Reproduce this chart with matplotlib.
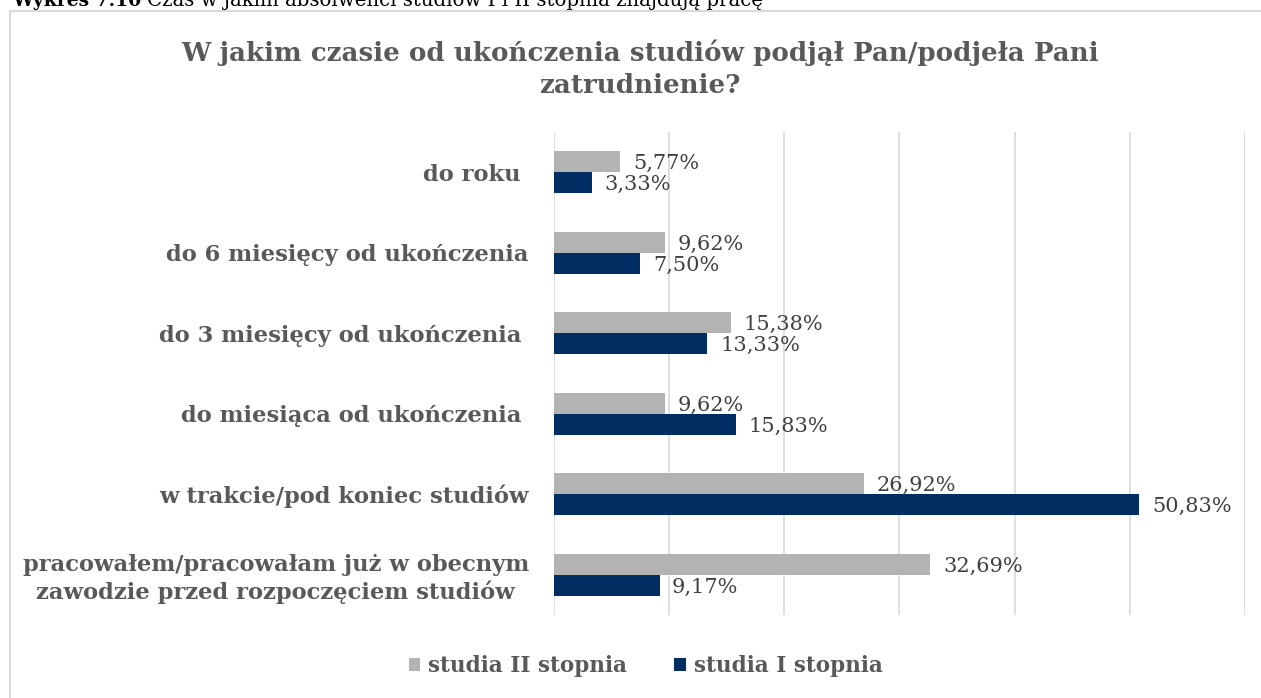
import matplotlib.pyplot as plt
import numpy as np

plt.rcParams['font.family'] = ['DejaVu Serif']

categories = [
    "do roku ",
    "do 6 miesięcy od ukończenia",
    "do 3 miesięcy od ukończenia ",
    "do miesiąca od ukończenia ",
    "w trakcie/pod koniec studiów",
    "pracowałem/pracowałam już w obecnym\nzawodzie przed rozpoczęciem studiów",
]
studia_II = [5.77, 9.62, 15.38, 9.62, 26.92, 32.69]
studia_I = [3.33, 7.50, 13.33, 15.83, 50.83, 9.17]

grey = '#b3b3b3'
navy = '#002d62'
txt = '#595959'

fig = plt.figure(figsize=(12.61, 6.98), dpi=100)
ax = fig.add_axes([0.4393, 0.119, 0.548, 0.692])

y = np.arange(len(categories))[::-1]
h = 0.26
b2 = ax.barh(y + h / 2, studia_II, height=h, color=grey, label='studia II stopnia')
b1 = ax.barh(y - h / 2, studia_I, height=h, color=navy, label='studia I stopnia')

for bars, vals in ((b2, studia_II), (b1, studia_I)):
    for rect, v in zip(bars, vals):
        ax.annotate(f"{v:.2f}%".replace('.', ','),
                    (rect.get_width(), rect.get_y() + rect.get_height() / 2),
                    xytext=(9, -1.5), textcoords='offset points',
                    va='center', ha='left', fontsize=15, color='#404040')

ax.set_xlim(0, 60)
ax.set_ylim(-0.5, len(categories) - 0.5)
ax.set_xticks(np.arange(0, 61, 10))
ax.set_xticklabels([])
ax.tick_params(length=0)
ax.xaxis.grid(True, color='#d9d9d9', linewidth=1.2)
ax.set_axisbelow(True)
for s in ax.spines.values():
    s.set_visible(False)

ax.set_yticks(y)
ax.set_yticklabels(categories, fontsize=16.3, fontweight='bold', color=txt)
ax.tick_params(axis='y', pad=18)
for lab in ax.get_yticklabels():
    lab.set_multialignment('center')

fig.text(0.5075, 0.901, "W jakim czasie od ukończenia studiów podjął Pan/podjeła Pani\nzatrudnienie?",
         ha='center', va='center', fontsize=18.8, fontweight='bold', color=txt,
         linespacing=1.36)

fig.legend(handles=[b2, b1], loc='center', bbox_to_anchor=(0.512, 0.046), ncol=2,
           frameon=False, prop={'size': 15.5, 'weight': 'bold'}, labelcolor=txt,
           handlelength=0.55, handleheight=0.55, handletextpad=0.35, columnspacing=2.2)

# chart border
fig.add_artist(plt.Rectangle((10 / 1261, -0.01), 1.0, 1 - 11 / 698 + 0.01,
                             transform=fig.transFigure, fill=False,
                             edgecolor='#d9d9d9', linewidth=1.5))

# caption above the chart, partly cut by the top edge
cap1 = fig.text(12 / 1261, 1 - 6 / 698, "Wykres 7.10", fontsize=13.5, fontweight='bold',
                ha='left', va='baseline')
fig.canvas.draw()
bb = cap1.get_window_extent()
fig.text((bb.x1 + 6) / 1261, 1 - 6 / 698,
         "Czas w jakim absolwenci studiów I i II stopnia znajdują pracę",
         fontsize=14.2, ha='left', va='baseline')

fig.savefig('out.png', dpi=100)
